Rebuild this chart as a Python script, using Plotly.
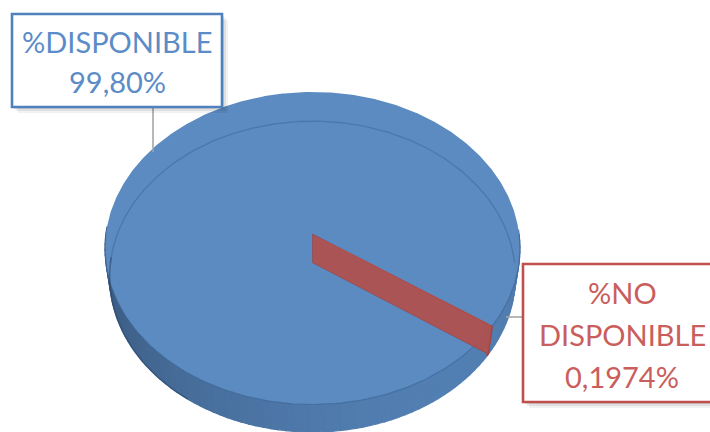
import numpy as np
import plotly.graph_objects as go

# Availability split, in percent
categories = ["%DISPONIBLE", "%NO DISPONIBLE"]
values = [99.8026, 0.1974]
value_decimals = [2, 4]
slice_colors = [(91, 139, 192), (176, 80, 78)]
wall_colors = [(92, 142, 200), (176, 80, 78)]
text_colors = ["#5B8CC7", "#C95E5C"]
border_colors = ["#4F81BD", "#C0504D"]

# 3-D pie camera / placement (pixel space of a 710x432 canvas)
W, H = 710, 432
ELEV = np.radians(48.6)
DIST = 7.27
SCALE = 206.6 * DIST
CX, CY = 312.5, 234.0
DEPTH = 0.215
FIRST_ANGLE = 125.0  # clockwise from 12 o'clock


def proj(theta_deg, r, z):
    t = np.radians(np.asarray(theta_deg, dtype=float))
    u = r * np.sin(t)
    v = r * np.cos(t)
    yc = v * np.sin(ELEV) + z * np.cos(ELEV)
    d = DIST + v * np.cos(ELEV) - z * np.sin(ELEV)
    return CX + SCALE * u / d, CY - SCALE * yc / d


def rgb(c, f=1.0, a=1.0):
    r, g, b = (int(max(0, min(255, round(ch * f)))) for ch in c)
    return f"rgba({r},{g},{b},{a})"


def wall_shade(theta):
    s = np.radians(theta - 180)
    return 0.85 - 0.11 * np.sin(s) - 0.12 * (1 - abs(np.cos(s)))


fig = go.Figure()


def poly(xs, ys, fill, line=None, width=0):
    fig.add_trace(go.Scatter(
        x=list(xs) + [xs[0]], y=list(ys) + [ys[0]], mode="lines",
        fill="toself", fillcolor=fill,
        line=dict(color=line or fill, width=width),
        hoverinfo="skip"))


def path(xs, ys, color, width):
    fig.add_trace(go.Scatter(x=xs, y=ys, mode="lines",
                             line=dict(color=color, width=width),
                             hoverinfo="skip"))


total = sum(values)
spans = [v / total * 360.0 for v in values]
starts = FIRST_ANGLE + np.concatenate([[0], np.cumsum(spans)[:-1]])

# side wall (front half only), one strip per small angle step
for a0, span, col in zip(starts, spans, wall_colors):
    n = max(1, int(np.ceil(span / 2.0)))
    edges = np.linspace(a0, a0 + span, n + 1)
    for e0, e1 in zip(edges[:-1], edges[1:]):
        mid = ((e0 + e1) / 2) % 360
        if not (88 < mid < 272):
            continue
        arc = np.linspace(e0, e1, 4)
        xt, yt = proj(arc, 1.0, 0.0)
        xb, yb = proj(arc[::-1], 1.0, -DEPTH)
        c = rgb(col, wall_shade(mid))
        poly(np.concatenate([xt, xb]), np.concatenate([yt, yb]), c, line=c, width=1.2)

# top faces of the slices
for a0, span, col in zip(starts, spans, slice_colors):
    arc = np.linspace(a0, a0 + span, max(2, int(span * 2)))
    xs, ys = proj(arc, 1.0, 0.0)
    cx0, cy0 = proj(0.0, 0.0, 0.0)
    poly(np.concatenate([[cx0], xs]), np.concatenate([[cy0], ys]), rgb(col))

# back rim of the base seen through the top, plus front top rim
th = np.linspace(-90, 90, 181)
bx, by = proj(th, 1.0, -DEPTH)
path(bx, by, "rgba(62,104,156,0.55)", 1.3)
th = np.linspace(90, 270, 181)
tx, ty = proj(th, 1.0, 0.0)
path(tx, ty, "rgba(58,98,148,0.6)", 1.2)
# darker silhouette at the left of the base
th = np.linspace(215, 272, 60)
sx, sy = proj(th, 1.0, -DEPTH)
path(sx, sy, "rgba(40,70,110,0.55)", 1.5)

# radial cut face of the small slice
edge = starts[1]
x1, y1 = proj(0.0, 0.0, 0.0)
x2, y2 = proj(edge, 1.0, 0.0)
x3, y3 = proj(edge, 1.0, -DEPTH)
x4, y4 = proj(0.0, 0.0, -DEPTH)
poly([x1, x2, x3, x4], [y1, y2, y3, y4], rgb(slice_colors[1], 1.0, 0.93),
     line="rgba(150,60,60,0.6)", width=0.8)

# label boxes
boxes = [dict(x0=12, y0=14, x1=222, y1=107, cx=117, baselines=[52, 92],
              leader=[(153, 107), (153, 152)]),
         dict(x0=523, y0=264, x1=722, y1=402, cx=622, baselines=[303, 345, 387],
              leader=[(506, 317), (523, 317)])]

shapes = []
annotations = []
FS = 29
for i, b in enumerate(boxes):
    (lx0, ly0), (lx1, ly1) = b["leader"]
    shapes.append(dict(type="line", x0=lx0, y0=ly0, x1=lx1, y1=ly1,
                       xref="x", yref="y", line=dict(color="#A5A5A5", width=1.6)))
    for off, a in ((6, 0.05), (4, 0.07), (2, 0.08)):
        shapes.append(dict(type="rect", x0=b["x0"] + off, y0=b["y0"] + off,
                           x1=b["x1"] + off, y1=b["y1"] + off, xref="x", yref="y",
                           fillcolor=f"rgba(0,0,0,{a})", line=dict(width=0)))
    shapes.append(dict(type="rect", x0=b["x0"], y0=b["y0"], x1=b["x1"], y1=b["y1"],
                       xref="x", yref="y", fillcolor="white",
                       line=dict(color=border_colors[i], width=2.6)))
    lines = categories[i].split(" ") + [
        f"{values[i]:.{value_decimals[i]}f}".replace(".", ",") + "%"]
    for txt, base in zip(lines, b["baselines"]):
        annotations.append(dict(x=b["cx"], y=base - 0.36 * FS, xref="x", yref="y",
                                text=txt, showarrow=False, xanchor="center",
                                yanchor="middle",
                                font=dict(family="Lato", size=FS, color=text_colors[i])))

fig.update_layout(
    width=W, height=H, autosize=False,
    margin=dict(l=0, r=0, t=0, b=0),
    paper_bgcolor="white", plot_bgcolor="white",
    showlegend=False,
    xaxis=dict(range=[0, W], visible=False, fixedrange=True),
    yaxis=dict(range=[H, 0], visible=False, fixedrange=True),
    shapes=shapes, annotations=annotations,
)

fig.write_html("out.html")
